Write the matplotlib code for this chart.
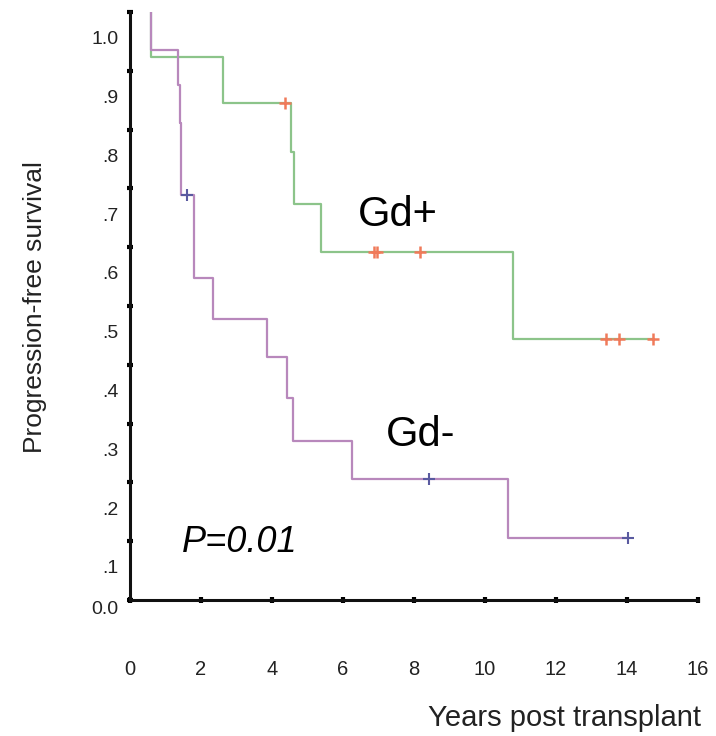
import numpy as np
import matplotlib.pyplot as plt

plt.rcParams['font.family'] = ['Liberation Sans', 'DejaVu Sans']

# Kaplan-Meier steps: time of each drop and survival after it
gdpos_t = [0.58, 0.58, 2.61, 4.53, 4.62, 5.38, 10.78, 14.74]
gdpos_s = [1.0, 0.924, 0.846, 0.762, 0.674, 0.591, 0.444, 0.444]
gdpos_cens = [4.38, 6.86, 6.95, 8.17, 13.41, 13.78, 14.74]

gdneg_t = [0.58, 0.58, 1.35, 1.40, 1.45, 1.80, 2.35, 3.85, 4.41, 4.60, 6.24, 10.64, 14.04]
gdneg_s = [1.0, 0.935, 0.876, 0.811, 0.689, 0.548, 0.478, 0.413, 0.343, 0.271, 0.205, 0.105, 0.105]
gdneg_cens = [1.60, 8.43, 14.04]

xticks = [0, 2, 4, 6, 8, 10, 12, 14, 16]
yticks = [0.0, 0.1, 0.2, 0.3, 0.4, 0.5, 0.6, 0.7, 0.8, 0.9, 1.0]
ylabels = ['0.0', '.1', '.2', '.3', '.4', '.5', '.6', '.7', '.8', '.9', '1.0']


def surv_at(times, surv, t):
    i = np.searchsorted(times, t, side='right') - 1
    return surv[i]


fig = plt.figure(figsize=(7.16, 7.36), dpi=100)
ax = fig.add_axes([130 / 716, 136 / 736, 568 / 716, 588 / 736])

ax.step(gdpos_t, gdpos_s, where='post', color='#8cc48a', lw=1.6)
ax.step(gdneg_t, gdneg_s, where='post', color='#b888bc', lw=1.6)

ax.plot(gdpos_cens, [surv_at(gdpos_t, gdpos_s, t) for t in gdpos_cens], '+',
        color='#f07a5a', ms=8, mew=1.8)
ax.plot(gdneg_cens, [surv_at(gdneg_t, gdneg_s, t) for t in gdneg_cens], '+',
        color='#5a5aa0', ms=8, mew=1.5)

ax.set_xlim(0, 16)
ax.set_ylim(0, 1.0)
for s in ['top', 'right']:
    ax.spines[s].set_visible(False)
for s in ['left', 'bottom']:
    ax.spines[s].set_linewidth(2.2)
    ax.spines[s].set_color('#111111')

ax.set_xticks(xticks)
ax.set_xticklabels([str(v) for v in xticks], fontsize=14.5, color='#222222')
ax.tick_params(axis='x', direction='inout', length=5, width=3, pad=41)

# y labels sit half a step under their ticks
ax.set_yticks(yticks)
ax.set_yticklabels([])
ax.tick_params(axis='y', direction='inout', length=5, width=3)
trans = ax.get_yaxis_transform()
for v, lab in zip(yticks, ylabels):
    y = v - 0.047 if v > 0 else -0.017
    ax.text(-0.02, y, lab, transform=trans, ha='right', va='center',
            fontsize=14, color='#222222')

ax.text(7.55, 0.655, 'Gd+', fontsize=30, ha='center', va='center')
ax.text(8.2, 0.28, 'Gd-', fontsize=30, ha='center', va='center')
ax.text(1.45, 0.097, 'P=0.01', fontsize=26, style='italic', ha='left', va='center')

fig.text(35 / 716, 1 - 307 / 736, 'Progression-free survival', rotation=90,
         fontsize=19, ha='center', va='center', color='#222222')
fig.text(428 / 716, 1 - 718 / 736, 'Years post transplant', fontsize=21,
         ha='left', va='center', color='#222222')

fig.savefig('out.png', dpi=100)
